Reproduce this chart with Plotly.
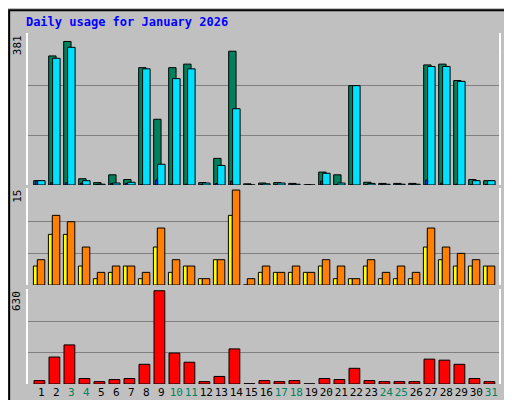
import plotly.graph_objects as go

days = list(range(1, 32))
hits = [11, 330, 367, 16, 6, 26, 14, 300, 168, 300, 309, 6, 68, 342, 3, 5,
        6, 4, 0, 33, 26, 254, 7, 4, 4, 4, 307, 309, 267, 14, 11]
files = [11, 324, 352, 11, 2, 5, 7, 297, 53, 272, 297, 5, 50, 195, 0, 3,
         5, 2, 0, 30, 5, 254, 4, 2, 2, 2, 303, 303, 265, 11, 11]
pages = [10, 6, 6, 5, 1, 4, 4, 1, 13, 2, 2, 1, 4, 10, 0, 1,
         1, 1, 0, 10, 1, 1, 1, 1, 1, 1, 13, 5, 2, 1, 1]
visits = [3, 8, 8, 3, 1, 2, 3, 1, 6, 2, 3, 1, 4, 11, 0, 2,
          2, 2, 2, 3, 1, 1, 3, 1, 1, 1, 6, 4, 3, 3, 3]
sites = [4, 11, 10, 6, 2, 3, 3, 2, 9, 4, 3, 1, 4, 15, 1, 3,
         2, 3, 2, 4, 3, 1, 4, 2, 3, 2, 9, 6, 5, 4, 3]
kbytes = [23, 182, 264, 37, 16, 30, 37, 133, 630, 209, 147, 16, 51, 237, 2, 23,
          16, 23, 1, 37, 30, 106, 23, 16, 16, 16, 168, 161, 133, 37, 16]
weekend = [3, 4, 10, 11, 17, 18, 24, 25, 31]

max_hits, max_sites, max_kb = 381, 15, 630

fig = go.Figure()


def bars(y, color, offset, width, axis):
    fig.add_trace(go.Bar(x=days, y=y, offset=offset, width=width, marker_color=color,
                         marker_line_color="black", marker_line_width=1,
                         xaxis="x", yaxis=axis, showlegend=False))


bars(hits, "#00805C", -0.51, 0.49, "y")
bars(files, "#00E0FF", -0.25, 0.5, "y")
bars(pages, "#0040FF", -0.38, 0.13, "y")
bars(visits, "#FFFF00", -0.53, 0.26, "y2")
bars(sites, "#FF8000", -0.27, 0.5, "y2")
bars(kbytes, "#FF0000", -0.49, 0.72, "y3")

ticktext = [f"<span style='color:#00805C'>{d}</span>" if d in weekend else str(d) for d in days]

grid = dict(showgrid=True, gridcolor="#808080", gridwidth=1, zeroline=False,
            showline=True, linecolor="white", linewidth=2, mirror=True,
            showticklabels=False, automargin=False)

fig.update_layout(
    width=512, height=400, barmode="overlay",
    paper_bgcolor="#C0C0C0", plot_bgcolor="#C0C0C0",
    margin=dict(l=20, r=21, t=25, b=24, autoexpand=False),
    font=dict(family="DejaVu Sans Mono", size=11, color="black"),
    xaxis=dict(range=[0.11, 31.51], tickvals=days, ticktext=ticktext, ticks="",
               tickangle=0, showgrid=False, anchor="y3", showline=False, automargin=False),
    yaxis=dict(domain=[0.567, 1], range=[0, max_hits * 1.02],
               tickvals=[max_hits / 3, max_hits * 2 / 3], **grid),
    yaxis2=dict(domain=[0.282, 0.558], range=[0, max_sites * 1.02],
                tickvals=[max_sites / 3, max_sites * 2 / 3], **grid),
    yaxis3=dict(domain=[0, 0.271], range=[0, max_kb * 1.02],
                tickvals=[max_kb / 3, max_kb * 2 / 3], **grid),
    title=dict(text="<b>Daily usage for January 2026</b>", x=0.035, y=0.975,
               font=dict(family="DejaVu Sans Mono", size=12, color="#0000FF")),
)

for val, dom_top in [(max_hits, 1), (max_sites, 0.558), (max_kb, 0.271)]:
    fig.add_annotation(text=str(val), textangle=-90, xref="paper", yref="paper",
                       x=-0.005, y=dom_top, xanchor="right", yanchor="top",
                       showarrow=False, font=dict(size=11))

right = [
    ("<span style='color:#00E0FF'>Pages</span> / <span style='color:#0040FF'>Files</span>"
     " / <span style='color:#00805C'>Hits</span>", 1),
    ("<span style='color:#FF8000'>Sites</span> / <span style='color:#FFFF00'>Visits</span>", 0.558),
    ("<span style='color:#FF0000'>kB F</span>", 0.271),
]
for txt, top in right:
    fig.add_annotation(text=txt, textangle=90, xref="paper", yref="paper",
                       x=1.022, y=top, xanchor="center", yanchor="top",
                       showarrow=False, font=dict(size=11, color="#808080"))

# window frame
fig.add_shape(type="rect", xref="paper", yref="paper", x0=-0.04, x1=1.055, y0=-0.065, y1=1.065,
              line=dict(color="black", width=2), layer="below")

fig.write_html("out.html")
